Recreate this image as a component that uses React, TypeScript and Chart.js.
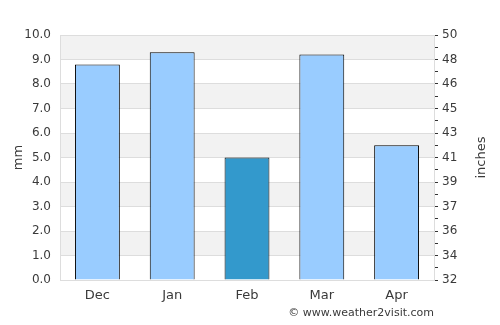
import React, { useEffect, useRef } from "react";
import { Chart, registerables } from "chart.js";

Chart.register(...registerables);

const categories = ["Dec", "Jan", "Feb", "Mar", "Apr"];
const rainfallMm = [8.8, 9.3, 5.0, 9.2, 5.5];
const barColors = ["#99ccff", "#99ccff", "#3399cc", "#99ccff", "#99ccff"];
const leftTitle = "mm";
const rightTitle = "inches";
const credit = "© www.weather2visit.com";

const FONT = "'DejaVu Sans', sans-serif";
const TEXT = "#3a3a3a";

const decor = {
  id: "decor",
  beforeDraw(chart: any) {
    const { ctx, chartArea } = chart;
    const y = chart.scales.y;
    ctx.save();
    for (let v = 0; v < 10; v++) {
      if (v % 2 === 1) {
        const top = y.getPixelForValue(v + 1);
        const bot = y.getPixelForValue(v);
        ctx.fillStyle = "#f2f2f2";
        ctx.fillRect(chartArea.left, top, chartArea.right - chartArea.left, bot - top);
      }
    }
    ctx.restore();
  },
  afterDraw(chart: any) {
    const { ctx, chartArea } = chart;
    ctx.save();
    ctx.fillStyle = TEXT;
    ctx.font = "13px " + FONT;
    ctx.textAlign = "center";
    ctx.textBaseline = "middle";
    const cy = (chartArea.top + chartArea.bottom) / 2;
    ctx.save();
    ctx.translate(19, cy);
    ctx.rotate(-Math.PI / 2);
    ctx.fillText(leftTitle, 0, 0);
    ctx.restore();
    ctx.save();
    ctx.translate(482, cy);
    ctx.rotate(-Math.PI / 2);
    ctx.fillText(rightTitle, 0, 0);
    ctx.restore();
    ctx.font = "11px " + FONT;
    ctx.textAlign = "right";
    ctx.fillText(credit, chartArea.right, 313);
    ctx.restore();
  },
};

export default function App() {
  const ref = useRef<HTMLCanvasElement>(null);
  useEffect(() => {
    const chart = new Chart(ref.current!, {
      type: "bar",
      data: {
        labels: categories,
        datasets: [
          {
            data: rainfallMm,
            backgroundColor: barColors,
            borderColor: "#000",
            borderWidth: 1,
            barPercentage: 0.6,
            categoryPercentage: 1,
            yAxisID: "y",
          },
        ],
      },
      options: {
        animation: false,
        responsive: false,
        maintainAspectRatio: false,
        layout: { padding: { top: 35, left: 0, right: 0, bottom: 0 } },
        plugins: { legend: { display: false }, tooltip: { enabled: false } },
        scales: {
          x: {
            grid: { display: false, drawTicks: false },
            border: { display: true, color: "#dddddd" },
            ticks: { color: TEXT, font: { family: FONT, size: 13 }, padding: 8 },
            afterFit(s: any) {
              s.height = 45;
            },
          },
          y: {
            position: "left",
            min: 0,
            max: 10,
            grid: { color: "#dddddd", drawTicks: false },
            border: { display: true, color: "#dddddd" },
            ticks: {
              stepSize: 1,
              padding: 9,
              color: TEXT,
              font: { family: FONT, size: 12 },
              callback: (v: any) => Number(v).toFixed(1),
            },
            afterFit(s: any) {
              s.width = 60;
            },
          },
          y2: {
            position: "right",
            min: 0,
            max: 10,
            grid: { drawOnChartArea: false, color: "#333", tickLength: 4 },
            border: { display: true, color: "#dddddd" },
            ticks: {
              stepSize: 0.5,
              padding: 4,
              color: TEXT,
              font: { family: FONT, size: 12 },
              autoSkip: false,
              callback: (v: any) =>
                Number.isInteger(Number(v)) ? String(Math.round(32 + 1.8 * Number(v))) : "",
            },
            afterFit(s: any) {
              s.width = 66;
            },
          },
        },
      },
      plugins: [decor],
    });
    return () => chart.destroy();
  }, []);
  return (
    <div style={{ position: "fixed", left: 0, top: 0, width: 500, height: 325, background: "#fff" }}>
      <canvas ref={ref} width={500} height={325} style={{ width: 500, height: 325 }} />
    </div>
  );
}
